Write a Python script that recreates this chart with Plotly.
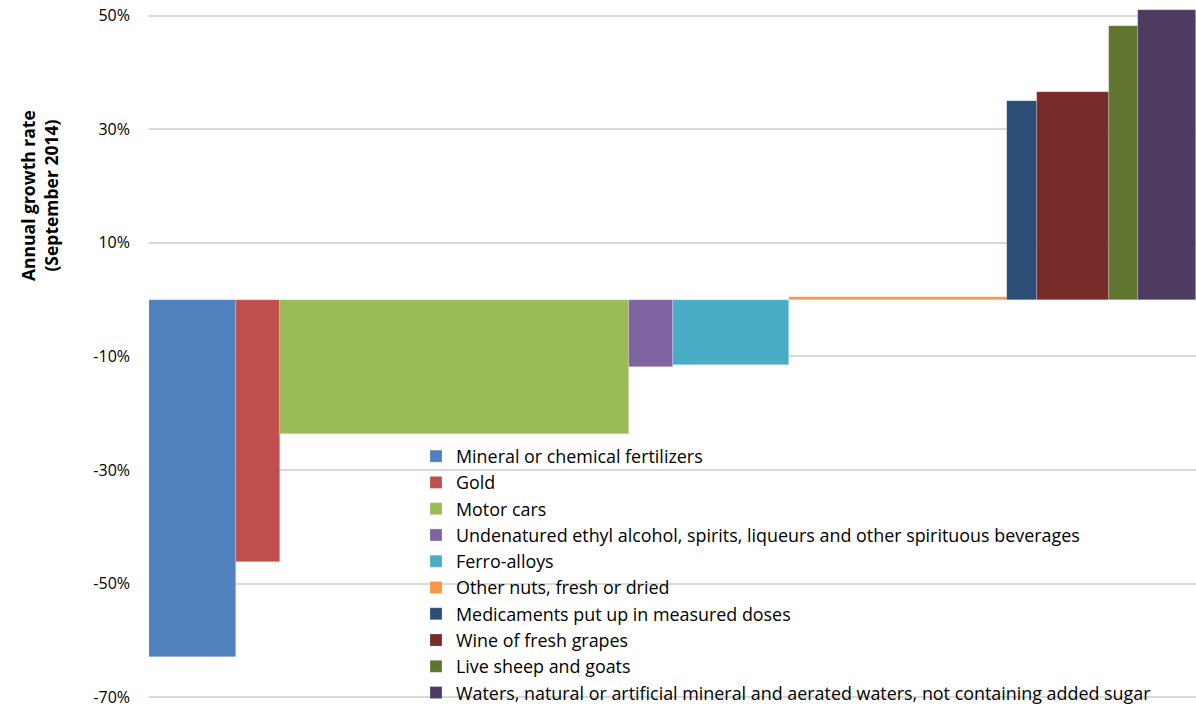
import plotly.graph_objects as go

categories = [
    "Mineral or chemical fertilizers",
    "Gold",
    "Motor cars",
    "Undenatured ethyl alcohol, spirits, liqueurs and other spirituous beverages",
    "Ferro-alloys",
    "Other nuts, fresh or dried",
    "Medicaments put up in measured doses",
    "Wine of fresh grapes",
    "Live sheep and goats",
    "Waters, natural or artificial mineral and aerated waters, not containing added sugar",
]
# bar widths (relative share of the total)
shares = [8.3, 4.2, 33.3, 4.2, 11.1, 20.8, 2.8, 6.9, 2.8, 5.5]
# annual growth rate, %
growth = [-62.9, -46.2, -23.7, -11.85, -11.55, 0.4, 35.0, 36.6, 48.2, 51.0]
colors = ["#4F81BD", "#C0504D", "#9BBB59", "#8064A2", "#4BACC6",
          "#F79646", "#2C4D75", "#772C2A", "#5F7530", "#4D3B62"]
tick_vals = [50, 30, 10, -10, -30, -50, -70]
tick_text = ["50%", "30%", "10%", "-10%", "-30%", "-50%", "-70%"]

W, H = 1196, 706
L, R, T, B = 149, 0, 7, 7
pw, ph = W - L - R, H - T - B

fig = go.Figure()
left = 0.0
for name, w, v, c in zip(categories, shares, growth, colors):
    fig.add_trace(go.Bar(
        x=[left + w / 2], y=[v], width=[w], name=name,
        marker=dict(color=c, line=dict(color="rgba(255,255,255,0.35)", width=0.6)),
    ))
    left += w

total = sum(shares)

def px_x(p):
    return (p - L) / pw

def px_y(p):
    return (H - B - p) / ph

fig.add_annotation(
    text="<b>Annual growth rate<br>(September 2014)</b>",
    xref="paper", yref="paper", x=px_x(39), y=px_y(196),
    showarrow=False, textangle=-90, xanchor="center", yanchor="middle",
    font=dict(family="Open Sans", size=17.5, color="#000000"),
)

fig.update_layout(
    width=W, height=H,
    margin=dict(l=L, r=R, t=T, b=B, pad=0, autoexpand=False),
    paper_bgcolor="white", plot_bgcolor="white",
    barmode="overlay", bargap=0,
    font=dict(family="Open Sans", size=16, color="#000000"),
    showlegend=True,
    legend=dict(
        x=px_x(416), y=px_y(438), xanchor="left", yanchor="top",
        bgcolor="rgba(0,0,0,0)", font=dict(family="Open Sans", size=17.9, color="#000000"),
        traceorder="normal", itemclick=False,
    ),
    xaxis=dict(range=[0, total], showticklabels=False, showgrid=False,
               zeroline=False, showline=False, fixedrange=True),
    yaxis=dict(range=[-70.3, 51.5], tickvals=tick_vals, ticktext=tick_text,
               showgrid=True, gridcolor="#D9D9D9", gridwidth=1.5, zeroline=False,
               showline=False, ticks="", ticklabelstandoff=18, ticklabeloverflow="allow",
               tickfont=dict(family="Open Sans", size=16, color="#000000")),
)

fig.write_html("out.html")
